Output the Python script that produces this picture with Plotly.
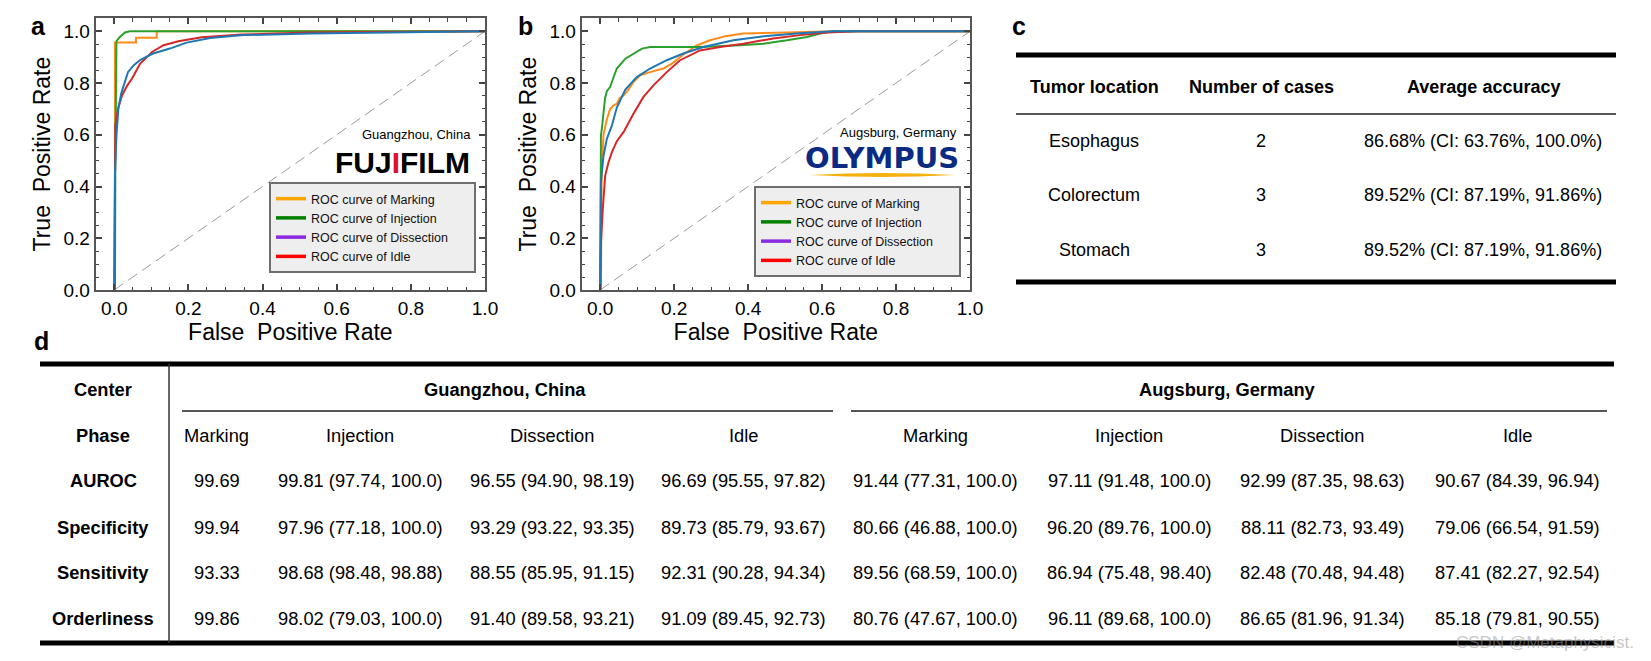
import plotly.graph_objects as go

# The page body keeps a default 8px margin, so the figure is sized to the
# remaining window area and every reference-pixel position is offset by 8px.
WIN_W, WIN_H = 1651, 661
OFF = 8
W, H = WIN_W - OFF, WIN_H - OFF
FONT = "Liberation Sans, Arial, sans-serif"

# ---------------- ROC data, panel a (Guangzhou, China) ----------------
a_marking_fpr = [0.002, 0.002, 0.0586, 0.0586, 0.1146, 0.1146, 1.0]
a_marking_tpr = [0.0, 0.956, 0.956, 0.975, 0.975, 1.0, 1.0]

a_injection_fpr = [0.002, 0.003, 0.006, 0.015, 0.029, 0.042, 1.0]
a_injection_tpr = [0.0, 0.5, 0.962, 0.978, 0.995, 1.0, 1.0]

a_idle_fpr = [0.0, 0.002, 0.003, 0.01, 0.021, 0.035, 0.048, 0.07, 0.102, 0.133, 0.173, 0.236, 0.344, 0.524, 0.686, 0.85, 1.0]
a_idle_tpr = [0.0, 0.4, 0.636, 0.70, 0.752, 0.79, 0.817, 0.875, 0.92, 0.946, 0.961, 0.977, 0.987, 0.995, 0.997, 0.998, 1.0]

a_dissection_fpr = [0.0, 0.002, 0.006, 0.011, 0.019, 0.037, 0.052, 0.069, 0.085, 0.105, 0.15, 0.195, 0.259, 0.349, 0.529, 0.691, 0.85, 1.0]
a_dissection_tpr = [0.0, 0.45, 0.597, 0.70, 0.76, 0.842, 0.868, 0.888, 0.90, 0.914, 0.933, 0.956, 0.974, 0.985, 0.991, 0.995, 0.997, 1.0]

# ---------------- ROC data, panel b (Augsburg, Germany) ----------------
b_marking_fpr = [0.002, 0.004, 0.009, 0.018, 0.027, 0.036, 0.045, 0.052, 0.063, 0.077, 0.09, 0.108, 0.135, 0.171, 0.194, 0.225, 0.261, 0.297, 0.342, 0.387, 0.505, 0.63, 1.0]
b_marking_tpr = [0.0, 0.45, 0.60, 0.66, 0.70, 0.713, 0.72, 0.74, 0.752, 0.775, 0.804, 0.83, 0.842, 0.856, 0.875, 0.91, 0.945, 0.965, 0.982, 0.991, 0.995, 1.0, 1.0]

b_injection_fpr = [0.0, 0.002, 0.005, 0.009, 0.013, 0.018, 0.027, 0.0315, 0.045, 0.068, 0.09, 0.113, 0.135, 0.27, 0.378, 0.441, 0.505, 0.559, 0.595, 0.63, 1.0]
b_injection_tpr = [0.0, 0.597, 0.63, 0.70, 0.74, 0.768, 0.785, 0.804, 0.856, 0.894, 0.914, 0.933, 0.939, 0.939, 0.946, 0.952, 0.965, 0.978, 0.991, 1.0, 1.0]

b_idle_fpr = [0.0, 0.002, 0.007, 0.0135, 0.0225, 0.0315, 0.045, 0.063, 0.09, 0.117, 0.144, 0.18, 0.216, 0.27, 0.324, 0.387, 0.468, 0.54, 0.613, 0.70, 1.0]
b_idle_tpr = [0.0, 0.183, 0.313, 0.442, 0.494, 0.532, 0.575, 0.61, 0.681, 0.746, 0.791, 0.842, 0.888, 0.926, 0.939, 0.952, 0.972, 0.985, 0.995, 1.0, 1.0]

b_dissection_fpr = [0.0, 0.002, 0.009, 0.018, 0.0315, 0.045, 0.068, 0.099, 0.135, 0.18, 0.225, 0.279, 0.36, 0.45, 0.54, 0.63, 1.0]
b_dissection_tpr = [0.0, 0.416, 0.519, 0.584, 0.635, 0.705, 0.775, 0.823, 0.856, 0.888, 0.914, 0.939, 0.965, 0.982, 0.992, 1.0, 1.0]

phases = ["Marking", "Injection", "Dissection", "Idle"]
legend_colors = ["#ffa500", "#008000", "#8a2be2", "#ff0000"]

# ---------------- Table c ----------------
tumor_locations = ["Esophagus", "Colorectum", "Stomach"]
num_cases = [2, 3, 3]
acc_mean = [86.68, 89.52, 89.52]
acc_ci_low = [63.76, 87.19, 87.19]
acc_ci_high = [100.0, 91.86, 91.86]
table_c_headers = ["Tumor location", "Number of cases", "Average accuracy"]

# ---------------- Table d ----------------
centers = ["Guangzhou, China", "Augsburg, Germany"]
metrics = ["AUROC", "Specificity", "Sensitivity", "Orderliness"]

gz_auroc = [99.69, 99.81, 96.55, 96.69]
gz_auroc_ci = [None, (97.74, 100.0), (94.90, 98.19), (95.55, 97.82)]
gz_spec = [99.94, 97.96, 93.29, 89.73]
gz_spec_ci = [None, (77.18, 100.0), (93.22, 93.35), (85.79, 93.67)]
gz_sens = [93.33, 98.68, 88.55, 92.31]
gz_sens_ci = [None, (98.48, 98.88), (85.95, 91.15), (90.28, 94.34)]
gz_order = [99.86, 98.02, 91.40, 91.09]
gz_order_ci = [None, (79.03, 100.0), (89.58, 93.21), (89.45, 92.73)]

ag_auroc = [91.44, 97.11, 92.99, 90.67]
ag_auroc_ci = [(77.31, 100.0), (91.48, 100.0), (87.35, 98.63), (84.39, 96.94)]
ag_spec = [80.66, 96.20, 88.11, 79.06]
ag_spec_ci = [(46.88, 100.0), (89.76, 100.0), (82.73, 93.49), (66.54, 91.59)]
ag_sens = [89.56, 86.94, 82.48, 87.41]
ag_sens_ci = [(68.59, 100.0), (75.48, 98.40), (70.48, 94.48), (82.27, 92.54)]
ag_order = [80.76, 96.11, 86.65, 85.18]
ag_order_ci = [(47.67, 100.0), (89.68, 100.0), (81.96, 91.34), (79.81, 90.55)]


def px(x):
    return (x - OFF) / W


def py(y):
    return 1 - (y - OFF) / H


def fnum(v):
    return "100.0" if v == 100 else f"{v:.2f}"


fig = go.Figure()

curve_colors = {"Marking": "#ff8c1a", "Injection": "#2ca02c", "Idle": "#d62728", "Dissection": "#1f77b4"}

panels = [
    ("x", "y", "legend", [
        ("Marking", a_marking_fpr, a_marking_tpr),
        ("Injection", a_injection_fpr, a_injection_tpr),
        ("Idle", a_idle_fpr, a_idle_tpr),
        ("Dissection", a_dissection_fpr, a_dissection_tpr),
    ]),
    ("x2", "y2", "legend2", [
        ("Marking", b_marking_fpr, b_marking_tpr),
        ("Injection", b_injection_fpr, b_injection_tpr),
        ("Idle", b_idle_fpr, b_idle_tpr),
        ("Dissection", b_dissection_fpr, b_dissection_tpr),
    ]),
]

PAD = "\u00a0" * 6
for xa, ya, lg, curves in panels:
    fig.add_trace(go.Scatter(x=[0, 1], y=[0, 1], mode="lines", xaxis=xa, yaxis=ya,
                             line=dict(color="#9a9a9a", width=1, dash="11px,6px"),
                             showlegend=False, hoverinfo="skip"))
    for name, fx, ty in curves:
        fig.add_trace(go.Scatter(x=fx, y=ty, mode="lines", xaxis=xa, yaxis=ya,
                                 line=dict(color=curve_colors[name], width=2),
                                 showlegend=False, name=name))
    for ph, col in zip(phases, legend_colors):
        fig.add_trace(go.Scatter(x=[None], y=[None], mode="lines", xaxis=xa, yaxis=ya,
                                 line=dict(color=col, width=3.5),
                                 name=f"ROC curve of {ph}{PAD}", legend=lg, showlegend=True))

axis_common = dict(
    showline=True, linecolor="#555", linewidth=2, mirror="ticks",
    ticks="inside", ticklen=6, tickwidth=1.5, tickcolor="#444",
    minor=dict(ticks="inside", ticklen=3.5, dtick=0.05, tickcolor="#444", tickwidth=1),
    dtick=0.2, tick0=0, tickformat=".1f", showgrid=False, zeroline=False,
    tickfont=dict(size=19, color="black", family=FONT), automargin=False,
)

fig.update_layout(
    width=W, height=H, margin=dict(l=0, r=0, t=0, b=0, autoexpand=False),
    paper_bgcolor="white", plot_bgcolor="white",
    font=dict(family=FONT, color="black"),
    xaxis=dict(domain=[px(95.7), px(485)], range=[-0.05, 1.0], anchor="y",
               title=dict(text="False\u00a0 Positive Rate", font=dict(size=23), standoff=0), **axis_common),
    yaxis=dict(domain=[py(290), py(18.3)], range=[0, 1.05], anchor="x",
               title=dict(text="True\u00a0 Positive Rate", font=dict(size=23), standoff=6), **axis_common),
    xaxis2=dict(domain=[px(581.7), px(970)], range=[-0.05, 1.0], anchor="y2",
                title=dict(text="False\u00a0 Positive Rate", font=dict(size=23), standoff=0), **axis_common),
    yaxis2=dict(domain=[py(290), py(18.3)], range=[0, 1.05], anchor="x2",
                title=dict(text="True\u00a0 Positive Rate", font=dict(size=23), standoff=6), **axis_common),
    legend=dict(x=px(269), y=py(182), xanchor="left", yanchor="top", bgcolor="#eeeeee",
                bordercolor="#6e6e6e", borderwidth=2, font=dict(size=12.5, color="#111"),
                tracegroupgap=0, itemwidth=30),
    legend2=dict(x=px(754), y=py(186), xanchor="left", yanchor="top", bgcolor="#eeeeee",
                 bordercolor="#6e6e6e", borderwidth=2, font=dict(size=12.5, color="#111"),
                 tracegroupgap=0, itemwidth=30),
    showlegend=True,
)


def text(x, y, s, size, bold=False, anchor="center", color="black", family=FONT):
    fig.add_annotation(x=px(x), y=py(y), xref="paper", yref="paper", text=s, showarrow=False,
                       xanchor=anchor, yanchor="middle",
                       font=dict(size=size, color=color, family=family,
                                 weight="bold" if bold else "normal"))


def hline(x0, x1, y, width, color="black"):
    fig.add_shape(type="line", xref="paper", yref="paper", x0=px(x0), x1=px(x1), y0=py(y), y1=py(y),
                  line=dict(color=color, width=width))


# panel letters
text(38, 26, "a", 25, bold=True)
text(525, 26, "b", 25, bold=True)
text(1019, 26, "c", 25, bold=True)
text(41, 341, "d", 25, bold=True)

# logos / site labels
text(473, 135, "Guangzhou, China", 13, anchor="right")
text(402, 163, "FUJ<span style='color:#e0102f'>I</span>FILM", 30, bold=True)
text(959, 133, "Augsburg, Germany", 13, anchor="right")
text(882, 158, "OLYMPUS", 29, bold=True, color="#0b2a84", family="DejaVu Sans")
fig.add_shape(type="path", xref="paper", yref="paper",
              path=(f"M {px(810)},{py(175)} Q {px(882)},{py(179)} {px(955)},{py(175)} "
                    f"Q {px(882)},{py(171)} {px(810)},{py(175)} Z"),
              fillcolor="#f4b20f", line=dict(width=0))

# ---------------- Table c ----------------
c_cols = [1094, 1261, 1483]
hline(1016, 1616, 55, 5)
hline(1016, 1616, 114, 2, "#555")
hline(1016, 1616, 282, 5)
for cx, h in zip(c_cols, table_c_headers):
    text(cx, 87, h, 18, bold=True)
for i, ry in enumerate([141, 195, 250]):
    text(c_cols[0], ry, tumor_locations[i], 18)
    text(c_cols[1], ry, str(num_cases[i]), 18)
    text(c_cols[2], ry,
         f"{acc_mean[i]:.2f}% (CI: {acc_ci_low[i]:.2f}%, {fnum(acc_ci_high[i])}%)", 18)

# ---------------- Table d ----------------
hline(40, 1614, 364, 5)
hline(40, 1614, 643, 5)
hline(182, 833, 411, 2, "#555")
hline(851, 1607, 411, 2, "#555")
fig.add_shape(type="line", xref="paper", yref="paper", x0=px(169), x1=px(169), y0=py(364), y1=py(643),
              line=dict(color="#333", width=1.5))

label_x = 103
gz_cols = [217, 360, 552, 743]
ag_cols = [935, 1129, 1322, 1517]
row_y = [481, 527, 572, 618]
FS = 18.3

text(label_x, 389, "Center", FS, bold=True)
text(505, 389, centers[0], FS, bold=True)
text(1227, 389, centers[1], FS, bold=True)
text(label_x, 435, "Phase", FS, bold=True)
for i, ph in enumerate(phases):
    text(gz_cols[i], 435, ph, FS)
    text(ag_cols[i], 435, ph, FS)

gz_rows = [(gz_auroc, gz_auroc_ci), (gz_spec, gz_spec_ci), (gz_sens, gz_sens_ci), (gz_order, gz_order_ci)]
ag_rows = [(ag_auroc, ag_auroc_ci), (ag_spec, ag_spec_ci), (ag_sens, ag_sens_ci), (ag_order, ag_order_ci)]


def cell(v, ci):
    if ci is None:
        return f"{v:.2f}"
    return f"{v:.2f} ({fnum(ci[0])}, {fnum(ci[1])})"


for r, m in enumerate(metrics):
    text(label_x, row_y[r], m, FS, bold=True)
    vals, cis = gz_rows[r]
    for i in range(4):
        text(gz_cols[i], row_y[r], cell(vals[i], cis[i]), FS)
    vals, cis = ag_rows[r]
    for i in range(4):
        text(ag_cols[i], row_y[r], cell(vals[i], cis[i]), FS)

# watermark
text(1636, 642, "CSDN @Metaphysicist.", 17, anchor="right", color="rgba(150,150,150,0.55)")

fig.write_html("out.html")
